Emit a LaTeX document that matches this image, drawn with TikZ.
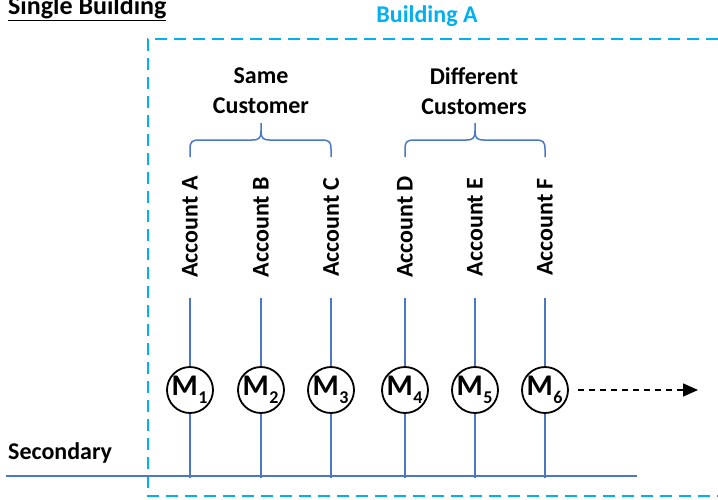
\documentclass[tikz,border=0pt]{standalone}
\usepackage{fontspec}
\setmainfont{Carlito}
\usetikzlibrary{arrows.meta}
\definecolor{bldblue}{RGB}{0,176,240}
\definecolor{wireblue}{RGB}{74,120,194}
\begin{document}
\begin{tikzpicture}[x=1pt,y=-1pt,
  lbl/.style={font=\fontsize{24}{30}\selectfont\bfseries, inner sep=0pt, align=center},
  acct/.style={lbl, rotate=90},
  meter/.style={circle, draw=black, line width=1.8pt, fill=white, minimum size=46pt, inner sep=0pt,
    font=\fontsize{30}{32}\selectfont\bfseries},
  wire/.style={draw=wireblue, line width=1.5pt},
  bracestyle/.style={draw=wireblue, line width=1.5pt},
  bld/.style={draw=bldblue, line width=2.8pt, dash pattern=on 12pt off 7pt},
  flow/.style={draw=black, line width=1.6pt, dash pattern=on 6pt off 5pt, -{Triangle[length=15pt,width=13pt]}}
]
\useasboundingbox (0,0) rectangle (718,499);

% building boundary
\draw[bld] (718,39) -- (148,39) -- (148,496) -- (718,496);

% titles
\node[lbl, anchor=base west, font=\fontsize{26}{30}\selectfont\bfseries] (title) at (8,14) {\underline{Single Building}};
\node[lbl, text=bldblue] (bA) at (427,16) {Building A};
\node[lbl, anchor=base west] (sec) at (8,459) {Secondary};

% group labels
\node[lbl] (same) at (261,91) {Same\\Customer};
\node[lbl] (diff) at (474,91) {Different\\Customers};

% braces
\draw[bracestyle] (190,157) -- (190,149) .. controls (190,142) and (192,140) .. (199,140) -- (252,140)
  .. controls (259,140) and (261,138) .. (261,131) -- (261,123);
\draw[bracestyle] (261,131) .. controls (261,138) and (263,140) .. (270,140) -- (322,140)
  .. controls (329,140) and (331,142) .. (331,149) -- (331,157);
\draw[bracestyle] (405,157) -- (405,149) .. controls (405,142) and (407,140) .. (414,140) -- (466,140)
  .. controls (473,140) and (475,138) .. (475,131) -- (475,123);
\draw[bracestyle] (475,131) .. controls (475,138) and (477,140) .. (484,140) -- (536,140)
  .. controls (543,140) and (545,142) .. (545,149) -- (545,157);

% secondary line
\coordinate (sL) at (6,476);
\coordinate (sR) at (637,476);
\draw[wire] (sL) -- (sR);

% accounts and meters
\foreach \i/\x/\L in {1/190/A,2/261/B,3/331/C,4/405/D,5/475/E,6/545/F}{
  \node[acct] (acc\i) at (\x,227) {Account \L};
  \coordinate (top\i) at (\x,298);
  \coordinate (bot\i) at (\x,478);
  \node[meter] (m\i) at (\x,390) {\kern-1pt M\kern0.5pt\raisebox{-8pt}{\fontsize{18}{18}\selectfont\i}};
  \draw[wire] (top\i) -- (m\i);
  \draw[wire] (m\i) -- (bot\i);
}

% outgoing arrow
\coordinate (arrE) at (698,390);
\draw[flow, shorten <=9pt] (m6) -- (arrE);
\end{tikzpicture}
\end{document}
